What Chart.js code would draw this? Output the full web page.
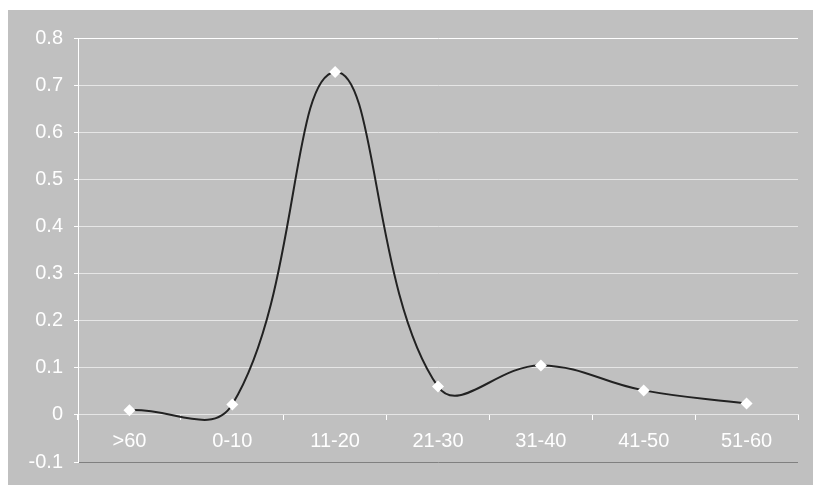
<!DOCTYPE html>
<html>
<head>
<meta charset="utf-8">
<script src="https://cdn.jsdelivr.net/npm/chart.js@4"></script>
<style>
  body { margin: 0; background: #fff; }
  #wrap { position: absolute; left: 8px; top: 10px; width: 805px; height: 475px; background: #c0c0c0; }
</style>
</head>
<body>
<div id="wrap"><canvas id="myChart" width="805" height="475"></canvas></div>
<script>
// age groups and their values
const ageGroups = [">60", "0-10", "11-20", "21-30", "31-40", "41-50", "51-60"];
const values = [0.01, 0.022, 0.728, 0.06, 0.105, 0.052, 0.024];
const yMin = -0.1;
const yMax = 0.8;
const yStep = 0.1;

Chart.defaults.font.family = "'Liberation Sans', Arial, sans-serif";
Chart.defaults.font.size = 20;
Chart.defaults.color = "#ffffff";

const data = {
  labels: ageGroups,
  datasets: [
    {
      data: values,
      borderColor: "#222222",
      borderWidth: 2,
      tension: 0.42,
      pointStyle: "rectRot",
      pointRadius: 6,
      pointBackgroundColor: "#ffffff",
      pointBorderWidth: 0,
    },
  ],
};

const config = {
  type: "line",
  data: data,
  options: {
    responsive: false,
    animation: false,
    layout: { padding: { top: 28, right: 15, bottom: 20, left: 0 } },
    plugins: { legend: { display: false }, tooltip: { enabled: false } },
    scales: {
      x: {
        position: { y: 0 },
        offset: true,
        grid: { drawOnChartArea: false, offset: true, tickLength: 5, color: "#ffffff" },
        border: { color: "#e6e6e6", width: 1 },
        ticks: { padding: 10, maxRotation: 0 },
      },
      y: {
        min: yMin,
        max: yMax,
        afterFit: (scale) => { scale.width = 70; },
        ticks: {
          stepSize: yStep,
          padding: 11,
          callback: (v) => String(Math.round(v * 10) / 10),
        },
        grid: {
          tickLength: 4,
          tickColor: "#ffffff",
          color: (ctx) => {
            const v = Math.round(ctx.tick.value * 10) / 10;
            if (v === yMin) return "#808080";
            if (v === yMax) return "#ffffff";
            return "#e6e6e6";
          },
        },
        border: { color: "#ffffff", width: 1 },
      },
    },
  },
};

const myChart = new Chart(document.getElementById("myChart"), config);
</script>
</body>
</html>
